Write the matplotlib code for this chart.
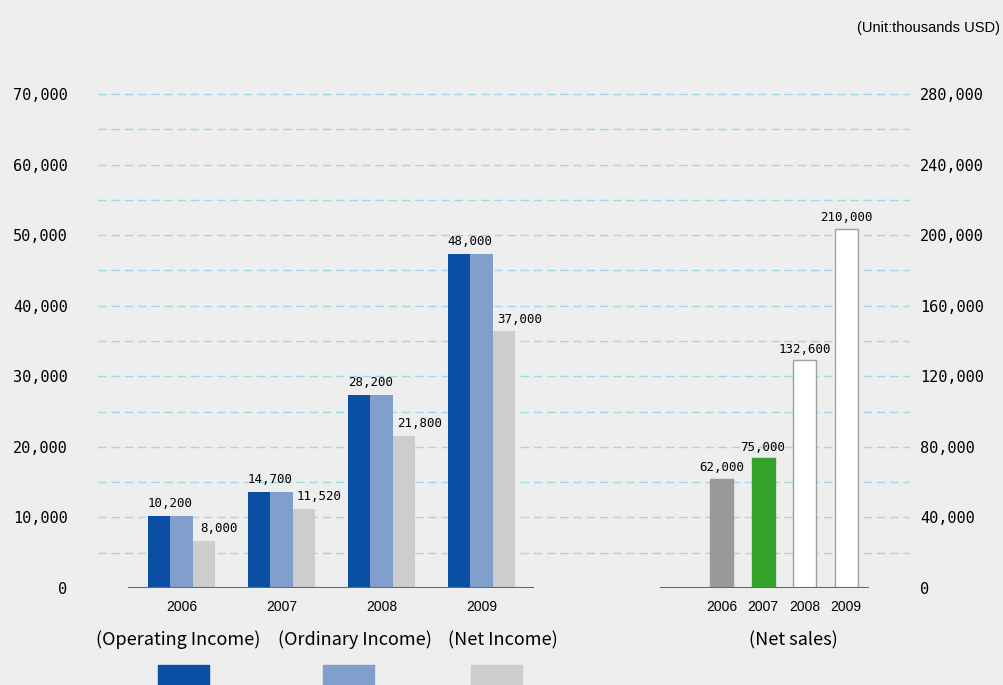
import matplotlib
matplotlib.use('Agg')
import matplotlib.pyplot as plt
from matplotlib.patches import Rectangle

# ---- data ----
years = ['2006', '2007', '2008', '2009']
operating_income = [10200, 13600, 27400, 47400]   # bar heights as drawn
ordinary_income = [10200, 13600, 27400, 47400]
net_income = [6700, 11200, 21600, 36400]
income_labels = ['10,200', '14,700', '28,200', '48,000']
net_income_labels = ['8,000', '11,520', '21,800', '37,000']

net_sales = [62000, 73800, 129200, 203800]
net_sales_labels = ['62,000', '75,000', '132,600', '210,000']

left_ticks = [0, 10000, 20000, 30000, 40000, 50000, 60000, 70000]
right_ticks = [0, 40000, 80000, 120000, 160000, 200000, 240000, 280000]
grid_steps = [5000 * k for k in range(1, 15)]

legend_names = ['(Operating Income)', '(Ordinary Income)', '(Net Income)']

# ---- style ----
BG = '#eeeeee'
C_OP = '#0a4fa3'
C_ORD = '#809fcd'
C_NET = '#cdcdcd'
sales_colors = ['#9a9a98', '#35a22b', '#ffffff', '#ffffff']
GRID = '#9fd9e8'
MONO = 'DejaVu Sans Mono'
ARIAL = ['Liberation Sans', 'DejaVu Sans']
KR = ['Noto Sans CJK KR', 'DejaVu Sans']

W, H = 1004, 685
fig = plt.figure(figsize=(W / 100, H / 100), dpi=100, facecolor=BG)

ax = fig.add_axes([98 / W, (H - 588) / H, (910 - 98) / W, (588 - 80) / H])
ax.set_facecolor('none')
ax.set_xlim(-0.835, 7.285)
ax.set_ylim(0, 72000)
for s in ax.spines.values():
    s.set_visible(False)

# dashed grid
for g in grid_steps:
    ax.axhline(g, color=GRID, lw=1.0, ls=(0, (6, 3.5)), zorder=0)

# left group bars
w = 0.225
for i in range(len(years)):
    ax.bar(i - w, operating_income[i], width=w, color=C_OP, zorder=2)
    ax.bar(i, ordinary_income[i], width=w, color=C_ORD, zorder=2)
    ax.bar(i + w, net_income[i], width=w, color=C_NET, zorder=2)
    ax.annotate(income_labels[i], (i - w / 2, operating_income[i]),
                xytext=(0, 4), textcoords='offset points',
                ha='center', va='bottom', fontsize=9, family=MONO)
    ax.annotate(net_income_labels[i], (i + w, net_income[i]),
                xytext=(11, 4), textcoords='offset points',
                ha='center', va='bottom', fontsize=9, family=MONO)
    ax.text(i, -1700, years[i], ha='center', va='top', fontsize=10,
            family=ARIAL)

ax.plot([-0.535, 3.525], [0, 0], color='#666666', lw=1.5, zorder=3,
        solid_capstyle='butt')

ax.set_xticks([])
ax.set_yticks(left_ticks)
ax.set_yticklabels([f'{v:,}' for v in left_ticks], family=MONO, fontsize=11)
ax.tick_params(axis='y', length=0, pad=22)

# right axis: net sales
ax2 = ax.twinx()
ax2.set_xlim(-0.835, 7.285)
ax2.set_ylim(0, 288000)
for s in ax2.spines.values():
    s.set_visible(False)
sx = [5.4 + j * 0.415 for j in range(len(years))]
for j in range(len(years)):
    ax2.bar(sx[j], net_sales[j], width=0.23, color=sales_colors[j],
            edgecolor='#a0a0a0' if sales_colors[j] == '#ffffff' else sales_colors[j],
            lw=1, zorder=2)
    ax2.annotate(net_sales_labels[j], (sx[j], net_sales[j]),
                 xytext=(0, 3), textcoords='offset points',
                 ha='center', va='bottom', fontsize=9, family=MONO)
    ax2.text(sx[j], -6800, years[j], ha='center', va='top', fontsize=10,
             family=ARIAL)
ax2.plot([4.785, 6.875], [0, 0], color='#666666', lw=1.5, zorder=3,
         solid_capstyle='butt')
ax2.set_yticks(right_ticks)
ax2.set_yticklabels([f'{v:,}' for v in right_ticks], family=MONO, fontsize=11)
ax2.tick_params(axis='y', length=0, pad=7)

# legend-like labels and swatches at the bottom
name_x = [178, 355, 503]
for nm, x in zip(legend_names, name_x):
    fig.text(x / W, (H - 640) / H, nm, ha='center', va='center',
             fontsize=13, family=KR)
fig.text(793 / W, (H - 640) / H, '(Net sales)', ha='center', va='center',
         fontsize=13, family=KR)
for x0, c in zip([158, 323, 471], [C_OP, C_ORD, C_NET]):
    fig.add_artist(Rectangle((x0 / W, -0.02), 51 / W, 0.02 + (H - 665) / H,
                             transform=fig.transFigure, color=c))

fig.text(1000 / W, (H - 28) / H, '(Unit:thousands USD)', ha='right',
         va='center', fontsize=10.5, family=ARIAL)

fig.savefig('out.png', dpi=100, facecolor=BG)
